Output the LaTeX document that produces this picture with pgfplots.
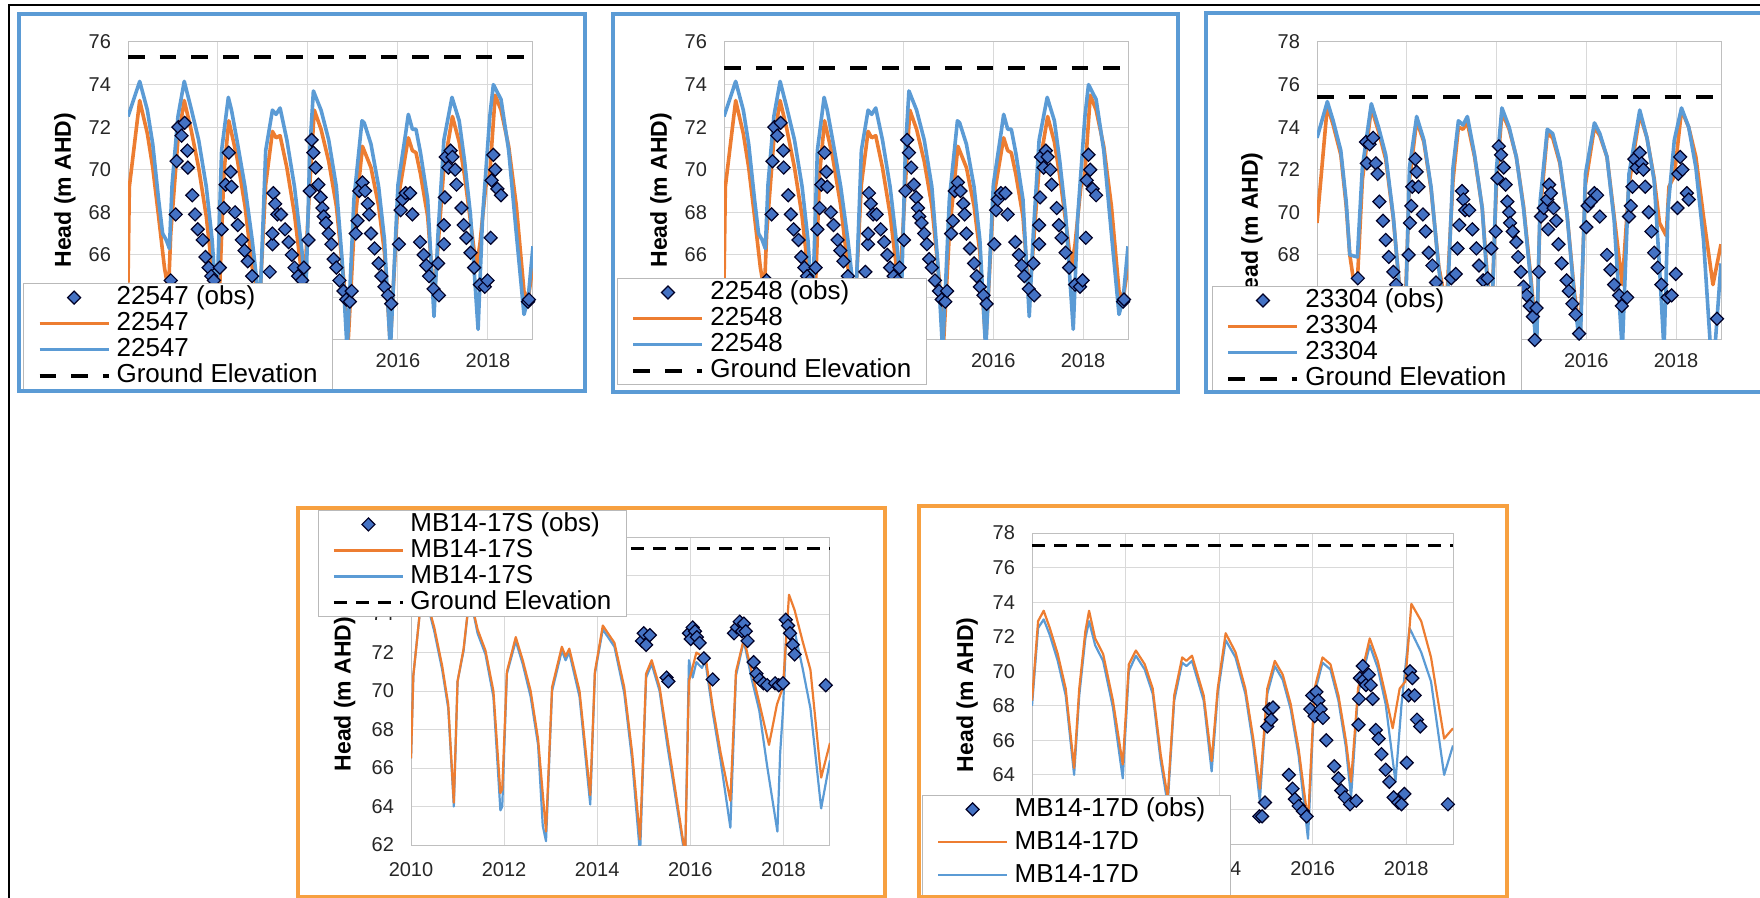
\documentclass[border=0pt]{standalone}
\usepackage{fontspec}
\setmainfont{Liberation Sans}
\usepackage{pgfplots}
\usepackage{pgfplotstable}
\pgfplotsset{compat=1.18}

\definecolor{xlorange}{HTML}{ED7D31}
\definecolor{xlblue}{HTML}{5B9BD5}
\definecolor{obsfill}{HTML}{4472C4}
\definecolor{boxorange}{HTML}{F7A040}
\definecolor{gridgray}{HTML}{D9D9D9}

% ---- 22547 / 22548 (same shape) ----
\pgfplotstableread[row sep=\\]{x y\\
2010.00 64.7\\ 2010.03 69.2\\ 2010.26 73.25\\ 2010.43 71.7\\ 2010.55 70.1\\ 2010.68 67.8\\ 2010.81 65.4\\ 2010.90 64.3\\ 2010.95 67.0\\
2011.11 71.4\\ 2011.25 73.25\\ 2011.40 71.9\\ 2011.57 70.1\\ 2011.74 67.8\\ 2011.91 64.5\\ 2012.04 64.6\\ 2012.13 69.8\\ 2012.24 72.3\\
2012.42 70.6\\ 2012.60 68.3\\ 2012.76 65.4\\ 2012.93 63.9\\ 2013.06 69.3\\ 2013.21 71.8\\ 2013.29 71.5\\ 2013.38 71.6\\ 2013.53 70.1\\
2013.70 67.9\\ 2013.91 64.2\\ 2014.04 69.3\\ 2014.14 72.8\\ 2014.29 71.9\\ 2014.46 70.4\\ 2014.63 68.3\\ 2014.80 64.7\\ 2014.89 61.8\\
2015.02 67.0\\ 2015.21 71.1\\ 2015.40 70.1\\ 2015.57 68.3\\ 2015.70 66.1\\ 2015.83 61.8\\ 2016.00 68.6\\ 2016.23 71.5\\ 2016.32 70.9\\
2016.40 70.8\\ 2016.50 69.8\\ 2016.66 67.8\\ 2016.80 63.9\\ 2016.89 66.4\\ 2017.02 70.1\\ 2017.21 72.5\\ 2017.36 71.3\\ 2017.48 69.7\\
2017.61 67.6\\ 2017.74 65.4\\ 2017.82 66.5\\ 2017.95 69.2\\ 2018.04 69.8\\ 2018.16 73.5\\ 2018.29 72.8\\ 2018.46 71.1\\ 2018.63 68.3\\
2018.80 64.3\\ 2018.89 63.9\\ 2019.00 65.5\\
}\curveAo
\pgfplotstableread[row sep=\\]{x y\\
2010.00 72.5\\ 2010.26 74.15\\ 2010.43 72.8\\ 2010.55 71.2\\ 2010.68 68.6\\ 2010.77 67.0\\ 2010.85 66.7\\ 2010.92 66.3\\ 2010.98 69.3\\
2011.11 72.5\\ 2011.25 74.15\\ 2011.40 72.9\\ 2011.57 71.4\\ 2011.74 69.2\\ 2011.87 66.7\\ 2011.97 63.5\\ 2012.08 70.9\\ 2012.23 73.4\\
2012.30 72.8\\ 2012.42 71.4\\ 2012.60 69.2\\ 2012.76 66.7\\ 2012.93 63.5\\ 2013.06 70.9\\ 2013.21 72.8\\ 2013.29 72.6\\ 2013.38 72.9\\
2013.53 71.4\\ 2013.70 69.2\\ 2013.87 66.1\\ 2013.95 63.9\\ 2014.04 70.9\\ 2014.12 73.7\\ 2014.29 72.8\\ 2014.46 71.4\\ 2014.63 69.2\\
2014.76 65.7\\ 2014.87 61.5\\ 2015.02 68.6\\ 2015.20 72.3\\ 2015.25 72.2\\ 2015.40 71.2\\ 2015.57 69.2\\ 2015.70 66.7\\ 2015.83 61.5\\
2016.00 69.3\\ 2016.17 71.7\\ 2016.23 72.6\\ 2016.32 71.9\\ 2016.40 71.9\\ 2016.50 70.8\\ 2016.66 68.6\\ 2016.80 63.1\\ 2016.89 67.0\\
2017.02 71.4\\ 2017.20 73.4\\ 2017.36 72.3\\ 2017.48 70.4\\ 2017.61 67.9\\ 2017.78 62.5\\ 2017.88 67.8\\ 2018.04 72.5\\ 2018.12 74.0\\
2018.29 73.3\\ 2018.46 70.9\\ 2018.63 67.0\\ 2018.80 63.2\\ 2018.89 63.9\\ 2019.00 66.4\\
}\curveAb
\pgfplotstableread[row sep=\\]{x y\\
2010.95 64.8\\ 2011.06 67.9\\ 2011.08 70.4\\ 2011.12 72.0\\ 2011.19 71.6\\ 2011.26 72.2\\ 2011.32 70.9\\ 2011.33 70.1\\ 2011.43 68.8\\
2011.49 67.9\\ 2011.55 67.2\\ 2011.66 66.7\\ 2011.72 65.9\\ 2011.79 65.4\\ 2011.85 65.0\\ 2011.91 64.8\\ 2012.04 65.4\\ 2012.08 67.2\\
2012.13 68.2\\ 2012.17 69.3\\ 2012.24 70.8\\ 2012.28 69.9\\ 2012.30 69.2\\ 2012.38 68.0\\ 2012.44 67.4\\ 2012.53 66.7\\ 2012.59 66.2\\
2012.66 65.7\\ 2012.76 65.0\\ 2013.15 65.2\\ 2013.21 66.5\\ 2013.21 67.0\\ 2013.23 68.9\\ 2013.27 68.4\\ 2013.32 67.9\\ 2013.40 67.9\\
2013.49 67.2\\ 2013.57 66.6\\ 2013.64 66.0\\ 2013.70 65.4\\ 2013.78 65.0\\ 2013.87 64.8\\ 2013.91 65.4\\ 2014.01 66.7\\ 2014.04 69.0\\
2014.08 71.4\\ 2014.12 70.8\\ 2014.17 70.1\\ 2014.23 69.3\\ 2014.28 68.7\\ 2014.32 68.2\\ 2014.35 67.8\\ 2014.40 67.5\\ 2014.46 67.0\\
2014.52 66.5\\ 2014.57 65.8\\ 2014.63 65.4\\ 2014.70 64.8\\ 2014.79 64.3\\ 2014.85 63.9\\ 2014.93 63.8\\ 2014.97 64.3\\ 2015.06 67.0\\
2015.10 67.6\\ 2015.14 69.0\\ 2015.21 69.4\\ 2015.27 69.0\\ 2015.33 68.4\\ 2015.36 67.9\\ 2015.40 67.0\\ 2015.48 66.3\\ 2015.57 65.6\\
2015.63 65.0\\ 2015.70 64.5\\ 2015.78 64.1\\ 2015.85 63.7\\ 2016.02 66.5\\ 2016.06 68.1\\ 2016.10 68.6\\ 2016.17 68.9\\ 2016.27 68.9\\
2016.32 67.9\\ 2016.49 66.6\\ 2016.57 66.0\\ 2016.63 65.5\\ 2016.69 65.0\\ 2016.79 64.4\\ 2016.89 65.6\\ 2016.91 64.1\\ 2017.02 66.5\\
2017.02 67.4\\ 2017.04 68.7\\ 2017.06 70.6\\ 2017.12 70.1\\ 2017.17 70.9\\ 2017.21 70.6\\ 2017.27 70.0\\ 2017.30 69.3\\ 2017.41 68.2\\
2017.46 67.4\\ 2017.52 66.8\\ 2017.61 66.1\\ 2017.69 65.4\\ 2017.82 64.6\\ 2017.93 64.5\\ 2017.99 64.8\\ 2018.06 66.8\\ 2018.08 69.5\\
2018.12 70.7\\ 2018.16 70.0\\ 2018.21 69.1\\ 2018.29 68.8\\ 2018.89 63.8\\ 2018.91 63.9\\
}\obsA

% ---- 23304 ----
\pgfplotstableread[row sep=\\]{x y\\
2010.00 69.5\\ 2010.23 75.0\\ 2010.36 74.1\\ 2010.53 72.7\\ 2010.65 70.3\\ 2010.73 68.0\\ 2010.80 67.0\\ 2010.90 66.8\\ 2011.01 71.5\\
2011.21 74.9\\ 2011.37 73.8\\ 2011.53 72.5\\ 2011.70 69.7\\ 2011.86 66.0\\ 2011.95 64.5\\ 2012.06 71.5\\ 2012.22 74.3\\ 2012.38 73.3\\
2012.54 71.1\\ 2012.71 67.5\\ 2012.88 65.5\\ 2013.03 71.5\\ 2013.15 74.0\\ 2013.25 73.9\\ 2013.35 74.2\\ 2013.51 72.6\\ 2013.68 70.2\\
2013.80 66.8\\ 2013.88 64.6\\ 2014.00 71.5\\ 2014.12 74.7\\ 2014.28 73.9\\ 2014.44 72.6\\ 2014.60 70.3\\ 2014.77 66.8\\ 2014.89 64.0\\
2014.97 70.0\\ 2015.13 73.7\\ 2015.25 73.5\\ 2015.41 72.3\\ 2015.57 69.9\\ 2015.73 66.3\\ 2015.86 64.2\\ 2015.98 71.3\\ 2016.18 74.0\\
2016.30 73.6\\ 2016.46 72.6\\ 2016.62 69.8\\ 2016.80 66.6\\ 2016.95 71.3\\ 2017.19 74.6\\ 2017.35 73.5\\ 2017.51 71.6\\ 2017.63 69.5\\
2017.78 68.9\\ 2017.84 71.2\\ 2017.96 71.7\\ 2018.12 74.8\\ 2018.28 74.0\\ 2018.44 72.6\\ 2018.61 69.8\\ 2018.82 66.6\\ 2019.00 68.5\\
}\curveBo
\pgfplotstableread[row sep=\\]{x y\\
2010.00 73.5\\ 2010.23 75.2\\ 2010.36 74.3\\ 2010.53 72.9\\ 2010.65 70.5\\ 2010.73 68.0\\ 2010.90 67.9\\ 2011.01 72.1\\ 2011.21 75.1\\
2011.37 74.0\\ 2011.53 72.7\\ 2011.70 69.8\\ 2011.86 65.8\\ 2011.95 63.5\\ 2012.06 72.1\\ 2012.22 74.5\\ 2012.38 73.4\\ 2012.54 71.2\\
2012.71 67.4\\ 2012.88 64.5\\ 2013.03 72.1\\ 2013.15 74.3\\ 2013.25 74.1\\ 2013.35 74.5\\ 2013.51 72.7\\ 2013.68 70.2\\ 2013.80 66.5\\
2013.88 64.0\\ 2014.00 72.1\\ 2014.12 74.9\\ 2014.28 74.0\\ 2014.44 72.6\\ 2014.60 70.2\\ 2014.77 66.6\\ 2014.89 63.5\\ 2014.97 70.5\\
2015.13 73.9\\ 2015.25 73.7\\ 2015.41 72.4\\ 2015.57 69.9\\ 2015.73 66.1\\ 2015.86 63.5\\ 2015.98 71.8\\ 2016.18 74.2\\ 2016.30 73.7\\
2016.46 72.6\\ 2016.62 69.6\\ 2016.80 63.5\\ 2016.95 71.8\\ 2017.19 74.8\\ 2017.35 73.5\\ 2017.51 71.5\\ 2017.63 67.4\\ 2017.73 63.5\\
2017.82 70.2\\ 2017.96 73.4\\ 2018.12 74.9\\ 2018.28 74.0\\ 2018.44 72.1\\ 2018.61 68.7\\ 2018.77 63.5\\ 2018.86 63.5\\ 2019.00 67.6\\
}\curveBb
\pgfplotstableread[row sep=\\]{x y\\
2010.91 66.9\\ 2011.09 73.3\\ 2011.11 72.3\\ 2011.17 73.2\\ 2011.25 73.5\\ 2011.31 72.3\\ 2011.35 71.8\\ 2011.39 70.5\\ 2011.47 69.6\\
2011.53 68.7\\ 2011.60 67.9\\ 2011.70 67.2\\ 2011.76 66.6\\ 2012.04 68.0\\ 2012.07 69.5\\ 2012.10 70.3\\ 2012.12 71.2\\ 2012.19 72.5\\
2012.22 71.9\\ 2012.26 71.2\\ 2012.36 69.9\\ 2012.42 69.1\\ 2012.49 68.1\\ 2012.57 67.5\\ 2012.65 66.7\\ 2012.99 66.9\\ 2013.09 67.1\\
2013.13 68.3\\ 2013.17 69.4\\ 2013.23 71.0\\ 2013.26 70.6\\ 2013.30 70.1\\ 2013.39 70.1\\ 2013.46 69.2\\ 2013.55 68.3\\ 2013.61 67.5\\
2013.70 66.8\\ 2013.80 66.9\\ 2013.88 68.3\\ 2013.98 69.1\\ 2014.02 71.6\\ 2014.05 73.1\\ 2014.10 72.7\\ 2014.16 72.1\\ 2014.20 71.3\\
2014.24 70.5\\ 2014.28 70.0\\ 2014.30 69.5\\ 2014.36 69.1\\ 2014.44 68.6\\ 2014.48 67.9\\ 2014.54 67.2\\ 2014.60 66.5\\ 2014.67 66.1\\
2014.74 65.6\\ 2014.81 65.1\\ 2014.85 64.0\\ 2014.89 65.5\\ 2014.94 67.2\\ 2014.99 69.8\\ 2015.05 70.2\\ 2015.13 70.6\\ 2015.15 69.2\\
2015.17 71.3\\ 2015.21 70.9\\ 2015.27 70.2\\ 2015.33 69.6\\ 2015.38 68.5\\ 2015.45 67.6\\ 2015.56 66.8\\ 2015.61 66.3\\ 2015.69 65.7\\
2015.76 65.2\\ 2015.84 64.3\\ 2016.00 69.3\\ 2016.03 70.3\\ 2016.10 70.5\\ 2016.18 70.9\\ 2016.24 70.8\\ 2016.30 69.8\\ 2016.46 68.0\\
2016.54 67.3\\ 2016.62 66.6\\ 2016.73 66.1\\ 2016.79 65.6\\ 2016.91 66.0\\ 2016.95 69.8\\ 2016.99 70.3\\ 2017.03 71.2\\ 2017.07 72.5\\
2017.12 72.1\\ 2017.19 72.8\\ 2017.23 72.3\\ 2017.27 72.0\\ 2017.31 71.2\\ 2017.39 70.0\\ 2017.45 69.1\\ 2017.51 68.1\\ 2017.59 67.4\\
2017.67 66.6\\ 2017.81 66.0\\ 2017.90 66.1\\ 2017.99 67.1\\ 2018.03 70.2\\ 2018.05 71.8\\ 2018.09 72.6\\ 2018.14 72.0\\ 2018.24 70.9\\
2018.28 70.6\\ 2018.91 65.0\\
}\obsB

% ---- MB14-17S ----
\pgfplotstableread[row sep=\\]{x y\\
2010.00 66.5\\ 2010.05 70.8\\ 2010.25 75.5\\ 2010.50 73.3\\ 2010.67 71.3\\ 2010.80 69.3\\ 2010.92 64.2\\ 2011.00 70.5\\ 2011.13 72.2\\
2011.26 75.0\\ 2011.43 73.2\\ 2011.60 72.1\\ 2011.77 70.0\\ 2011.92 64.7\\ 2011.96 64.9\\ 2012.06 71.0\\ 2012.25 72.8\\ 2012.40 71.6\\
2012.57 70.0\\ 2012.73 67.5\\ 2012.90 62.7\\ 2013.03 70.2\\ 2013.24 72.3\\ 2013.32 71.8\\ 2013.40 72.2\\ 2013.62 70.0\\ 2013.85 64.6\\
2013.95 71.0\\ 2014.12 73.4\\ 2014.37 72.5\\ 2014.58 70.2\\ 2014.75 66.8\\ 2014.92 62.3\\ 2015.05 70.9\\ 2015.17 71.6\\ 2015.34 70.2\\
2015.51 67.5\\ 2015.89 61.5\\ 2015.97 70.5\\ 2016.13 72.0\\ 2016.25 71.8\\ 2016.32 71.9\\ 2016.48 69.2\\ 2016.65 66.8\\ 2016.86 64.3\\
2016.98 71.0\\ 2017.15 72.7\\ 2017.32 71.0\\ 2017.48 69.4\\ 2017.69 67.2\\ 2017.86 69.3\\ 2017.99 70.2\\ 2018.12 75.0\\ 2018.24 74.2\\
2018.41 72.6\\ 2018.58 71.1\\ 2018.81 65.5\\ 2019.00 67.3\\
}\curveCo
\pgfplotstableread[row sep=\\]{x y\\
2010.00 66.5\\ 2010.05 70.8\\ 2010.25 75.5\\ 2010.50 73.1\\ 2010.67 71.1\\ 2010.80 69.1\\ 2010.92 64.0\\ 2011.00 70.5\\ 2011.13 72.1\\
2011.26 75.0\\ 2011.43 73.0\\ 2011.60 71.9\\ 2011.77 69.7\\ 2011.92 63.8\\ 2011.96 64.0\\ 2012.06 70.9\\ 2012.25 72.6\\ 2012.40 71.4\\
2012.57 69.7\\ 2012.73 67.2\\ 2012.83 63.0\\ 2012.90 62.2\\ 2013.03 70.0\\ 2013.24 72.1\\ 2013.32 71.6\\ 2013.40 72.0\\ 2013.62 69.7\\
2013.85 64.1\\ 2013.95 70.9\\ 2014.12 73.2\\ 2014.37 72.3\\ 2014.58 69.9\\ 2014.75 66.4\\ 2014.92 61.5\\ 2015.05 70.7\\ 2015.17 71.4\\
2015.34 70.0\\ 2015.51 67.1\\ 2015.89 61.3\\ 2015.97 71.6\\ 2016.05 70.7\\ 2016.13 71.5\\ 2016.25 71.2\\ 2016.32 71.6\\ 2016.48 68.9\\
2016.65 66.4\\ 2016.86 62.9\\ 2016.98 70.8\\ 2017.15 72.6\\ 2017.32 70.6\\ 2017.48 69.0\\ 2017.65 66.1\\ 2017.87 62.7\\ 2017.93 66.8\\
2017.99 69.0\\ 2018.07 73.5\\ 2018.24 73.1\\ 2018.41 71.2\\ 2018.58 69.1\\ 2018.81 63.9\\ 2019.00 66.4\\
}\curveCb
\pgfplotstableread[row sep=\\]{x y\\
2014.96 72.6\\ 2015.00 73.0\\ 2015.05 72.4\\ 2015.13 72.9\\ 2015.49 70.7\\ 2015.53 70.5\\ 2015.97 73.0\\ 2016.01 72.7\\ 2016.05 73.3\\
2016.10 73.1\\ 2016.14 72.8\\ 2016.20 72.5\\ 2016.29 71.7\\ 2016.48 70.6\\ 2016.94 73.0\\ 2017.00 73.3\\ 2017.06 73.6\\ 2017.11 73.1\\
2017.15 73.5\\ 2017.19 73.1\\ 2017.23 72.6\\ 2017.36 71.5\\ 2017.42 70.9\\ 2017.49 70.6\\ 2017.57 70.4\\ 2017.65 70.3\\ 2017.82 70.4\\
2017.90 70.3\\ 2017.99 70.4\\ 2018.05 73.7\\ 2018.10 73.4\\ 2018.14 73.0\\ 2018.20 72.4\\ 2018.24 71.9\\ 2018.91 70.3\\
}\obsC

% ---- MB14-17D ----
\pgfplotstableread[row sep=\\]{x y\\
2010.00 68.3\\ 2010.13 72.9\\ 2010.25 73.5\\ 2010.38 72.5\\ 2010.55 71.0\\ 2010.72 69.0\\ 2010.90 64.4\\ 2011.01 69.0\\ 2011.14 72.3\\
2011.22 73.5\\ 2011.35 71.9\\ 2011.52 71.0\\ 2011.73 68.3\\ 2011.94 64.6\\ 2012.07 70.4\\ 2012.22 71.2\\ 2012.41 70.4\\ 2012.58 69.0\\
2012.75 65.2\\ 2012.90 62.7\\ 2013.04 68.6\\ 2013.21 70.8\\ 2013.30 70.6\\ 2013.42 70.9\\ 2013.67 68.6\\ 2013.84 64.8\\ 2013.97 69.0\\
2014.14 72.2\\ 2014.35 71.1\\ 2014.56 69.0\\ 2014.73 66.1\\ 2014.87 63.2\\ 2015.03 69.0\\ 2015.19 70.6\\ 2015.36 69.8\\ 2015.53 68.1\\
2015.70 65.5\\ 2015.90 61.3\\ 2016.04 69.0\\ 2016.21 70.8\\ 2016.38 70.4\\ 2016.55 68.6\\ 2016.71 66.0\\ 2016.82 63.6\\ 2016.97 69.0\\
2017.22 71.9\\ 2017.39 70.6\\ 2017.56 68.6\\ 2017.71 66.7\\ 2017.86 69.0\\ 2017.98 69.4\\ 2018.11 73.9\\ 2018.32 72.9\\ 2018.53 70.8\\
2018.81 66.1\\ 2019.00 66.7\\
}\curveDo
\pgfplotstableread[row sep=\\]{x y\\
2010.00 68.0\\ 2010.13 72.5\\ 2010.25 73.0\\ 2010.38 72.1\\ 2010.55 70.6\\ 2010.72 68.6\\ 2010.90 64.0\\ 2011.01 68.6\\ 2011.14 71.9\\
2011.22 72.9\\ 2011.35 71.5\\ 2011.52 70.6\\ 2011.73 67.9\\ 2011.94 63.8\\ 2012.07 70.0\\ 2012.22 70.9\\ 2012.41 70.1\\ 2012.58 68.7\\
2012.75 64.8\\ 2012.90 62.3\\ 2013.04 68.3\\ 2013.21 70.5\\ 2013.30 70.3\\ 2013.42 70.6\\ 2013.67 68.3\\ 2013.84 64.2\\ 2013.97 68.7\\
2014.14 71.8\\ 2014.35 70.8\\ 2014.56 68.7\\ 2014.73 65.7\\ 2014.87 62.5\\ 2015.03 68.7\\ 2015.19 70.3\\ 2015.36 69.5\\ 2015.53 67.8\\
2015.70 65.1\\ 2015.90 60.3\\ 2016.04 68.7\\ 2016.21 70.5\\ 2016.38 70.1\\ 2016.55 68.3\\ 2016.71 65.6\\ 2016.82 62.7\\ 2016.97 68.7\\
2017.22 71.5\\ 2017.39 70.2\\ 2017.56 68.1\\ 2017.77 63.6\\ 2017.90 68.1\\ 2018.07 72.5\\ 2018.32 71.1\\ 2018.53 69.4\\ 2018.81 64.0\\
2019.00 65.7\\
}\curveDb
\pgfplotstableread[row sep=\\]{x y\\
2014.86 61.6\\ 2014.92 61.6\\ 2014.98 62.4\\ 2015.03 66.8\\ 2015.07 67.8\\ 2015.11 67.2\\ 2015.15 67.9\\ 2015.49 64.0\\ 2015.57 63.2\\
2015.62 62.6\\ 2015.70 62.2\\ 2015.79 61.9\\ 2015.87 61.6\\ 2015.95 67.8\\ 2015.99 68.6\\ 2016.04 67.4\\ 2016.08 68.8\\ 2016.12 68.3\\
2016.17 67.8\\ 2016.22 67.3\\ 2016.29 66.0\\ 2016.46 64.5\\ 2016.55 63.8\\ 2016.61 63.1\\ 2016.69 62.7\\ 2016.80 62.3\\ 2016.93 62.5\\
2016.98 66.9\\ 2016.99 68.4\\ 2017.01 69.6\\ 2017.07 70.3\\ 2017.09 69.5\\ 2017.14 69.2\\ 2017.20 69.8\\ 2017.24 69.2\\ 2017.28 68.4\\
2017.35 66.6\\ 2017.41 66.1\\ 2017.47 65.2\\ 2017.56 64.3\\ 2017.64 63.6\\ 2017.73 62.7\\ 2017.83 62.4\\ 2017.90 62.3\\ 2017.96 62.9\\
2018.01 64.7\\ 2018.05 68.6\\ 2018.08 70.0\\ 2018.13 69.6\\ 2018.18 68.6\\ 2018.23 67.2\\ 2018.30 66.8\\ 2018.89 62.3\\
}\obsD

\pgfplotsset{
  hd/.style={
    scale only axis, xmin=2010, xmax=2019, xtick={2010,2012,...,2018}, ytick distance=2,
    grid=major, major grid style={draw=gridgray, line width=0.5pt},
    axis line style={draw=gray!50, line width=0.5pt},
    major tick length=0pt,
    /pgf/number format/assume math mode=true, /pgf/number format/1000 sep={},
    tick label style={font=\fontsize{10}{12}\selectfont, text=black!85},
    yticklabel shift=5pt, xticklabel shift=3pt,
    ylabel={Head (m AHD)},
    ylabel style={font=\bfseries\fontsize{11.5}{13}\selectfont, anchor=center},
    legend cell align=left,
    legend style={draw=gray!55, line width=0.5pt, fill=white, anchor=north west,
      inner xsep=7pt, inner ysep=0.5pt, font=\fontsize{13}{13}\selectfont,
      nodes={inner sep=0.4pt, text height=9.5pt, text depth=2.7pt},
      column sep=2.6pt, row sep=0pt},
  },
  lnimg/.style={legend image code/.code={\draw[##1] (0pt,0pt) -- (34.5pt,0pt);}},
  obsimg/.style={legend image code/.code={\draw[##1] plot coordinates {(17.25pt,0pt)};}},
  obsmark/.style={only marks, mark=square*, mark size=2.3pt,
    mark options={rotate=45, fill=obsfill, draw=black!85!blue, line width=0.6pt}},
  thickln/.style={line width=1.8pt, line join=round},
  thinln/.style={line width=1.1pt, line join=round},
  gndthick/.style={black, line width=2pt, dash pattern=on 8.3pt off 7.5pt},
  gndthin/.style={black, line width=1.5pt, dash pattern=on 6.5pt off 4.5pt},
}

\begin{document}
\begin{tikzpicture}
\path[use as bounding box] (0pt,0pt) rectangle (880pt,-449pt);
\clip (0pt,0pt) rectangle (880pt,-449pt);

% 22547
\begin{axis}[hd, at={(64pt,-170pt)}, anchor=south west, width=202.5pt, height=149pt,
  ymin=62, ymax=76, ylabel style={at={(axis description cs:-0.156,0.503)}},
  legend style={at={(-0.259,0.191)}}]
\addlegendimage{obsmark, obsimg}\addlegendentry{22547 (obs)}
\addlegendimage{xlorange, thickln, lnimg}\addlegendentry{22547}
\addlegendimage{xlblue, thickln, lnimg}\addlegendentry{22547}
\addlegendimage{gndthick, lnimg}\addlegendentry{Ground Elevation}
\addplot[forget plot, xlorange, thickln] table {\curveAo};
\addplot[forget plot, xlblue, thickln] table {\curveAb};
\addplot[forget plot, gndthick] coordinates {(2010,75.3) (2019,75.3)};
\addplot[forget plot, obsmark] table {\obsA};
\end{axis}

% 22548
\begin{axis}[hd, at={(362pt,-170pt)}, anchor=south west, width=202pt, height=149pt,
  ymin=62, ymax=76, ylabel style={at={(axis description cs:-0.156,0.503)}},
  legend style={at={(-0.265,0.208)}}]
\addlegendimage{obsmark, obsimg}\addlegendentry{22548 (obs)}
\addlegendimage{xlorange, thickln, lnimg}\addlegendentry{22548}
\addlegendimage{xlblue, thickln, lnimg}\addlegendentry{22548}
\addlegendimage{gndthick, lnimg}\addlegendentry{Ground Elevation}
\addplot[forget plot, xlorange, thickln] table {\curveAo};
\addplot[forget plot, xlblue, thickln] table {\curveAb};
\addplot[forget plot, gndthick] coordinates {(2010,74.8) (2019,74.8)};
\addplot[forget plot, obsmark] table {\obsA};
\end{axis}

% 23304
\begin{axis}[hd, at={(658.5pt,-170pt)}, anchor=south west, width=202pt, height=149pt,
  ymin=64, ymax=78, ylabel style={at={(axis description cs:-0.161,0.37)}},
  legend style={at={(-0.260,0.181)}}]
\addlegendimage{obsmark, obsimg}\addlegendentry{23304 (obs)}
\addlegendimage{xlorange, thickln, lnimg}\addlegendentry{23304}
\addlegendimage{xlblue, thickln, lnimg}\addlegendentry{23304}
\addlegendimage{gndthick, lnimg}\addlegendentry{Ground Elevation}
\addplot[forget plot, xlorange, thickln] table {\curveBo};
\addplot[forget plot, xlblue, thickln] table {\curveBb};
\addplot[forget plot, gndthick] coordinates {(2010,75.4) (2019,75.4)};
\addplot[forget plot, obsmark] table {\obsB};
\end{axis}

% MB14-17S
\begin{axis}[hd, at={(205.5pt,-422.5pt)}, anchor=south west, width=209.5pt, height=154pt,
  ymin=62, ymax=78, ylabel style={at={(axis description cs:-0.158,0.49)}},
  xticklabel shift=5pt,
  legend style={at={(-0.222,1.088)}}]
\addlegendimage{obsmark, obsimg}\addlegendentry{MB14-17S (obs)}
\addlegendimage{xlorange, thinln, lnimg}\addlegendentry{MB14-17S}
\addlegendimage{xlblue, thinln, lnimg}\addlegendentry{MB14-17S}
\addlegendimage{gndthin, lnimg}\addlegendentry{Ground Elevation}
\addplot[forget plot, xlblue, thinln] table {\curveCb};
\addplot[forget plot, xlorange, thinln] table {\curveCo};
\addplot[forget plot, gndthin] coordinates {(2010,77.4) (2019,77.4)};
\addplot[forget plot, obsmark] table {\obsC};
\end{axis}

% MB14-17D
\begin{axis}[hd, at={(516pt,-422pt)}, anchor=south west, width=210.5pt, height=155.5pt,
  ymin=60, ymax=78, ylabel style={at={(axis description cs:-0.154,0.48)}},
  xticklabel shift=5pt,
  legend style={at={(-0.261,0.158)}, row sep=3.5pt}]
\addlegendimage{obsmark, obsimg}\addlegendentry{MB14-17D (obs)}
\addlegendimage{xlorange, thinln, lnimg}\addlegendentry{MB14-17D}
\addlegendimage{xlblue, thinln, lnimg}\addlegendentry{MB14-17D}
\addlegendimage{gndthin, lnimg}\addlegendentry{Ground Elevation}
\addplot[forget plot, xlblue, thinln] table {\curveDb};
\addplot[forget plot, xlorange, thinln] table {\curveDo};
\addplot[forget plot, gndthin] coordinates {(2010,77.3) (2019,77.3)};
\addplot[forget plot, obsmark] table {\obsD};
\end{axis}

% frames
\draw[black, line width=0.7pt] (4.5pt,-2.5pt) rectangle (890pt,-460pt);
\draw[xlblue, line width=1.75pt] (9.5pt,-7pt) rectangle (292.5pt,-195.5pt);
\draw[xlblue, line width=1.75pt] (306.5pt,-7pt) rectangle (589pt,-196pt);
\draw[xlblue, line width=1.75pt] (603pt,-6.5pt) rectangle (895pt,-196pt);
\draw[boxorange, line width=1.6pt] (149pt,-254pt) rectangle (442.5pt,-448.5pt);
\draw[boxorange, line width=1.6pt] (459.5pt,-253pt) rectangle (753.5pt,-448.5pt);
\end{tikzpicture}
\end{document}
